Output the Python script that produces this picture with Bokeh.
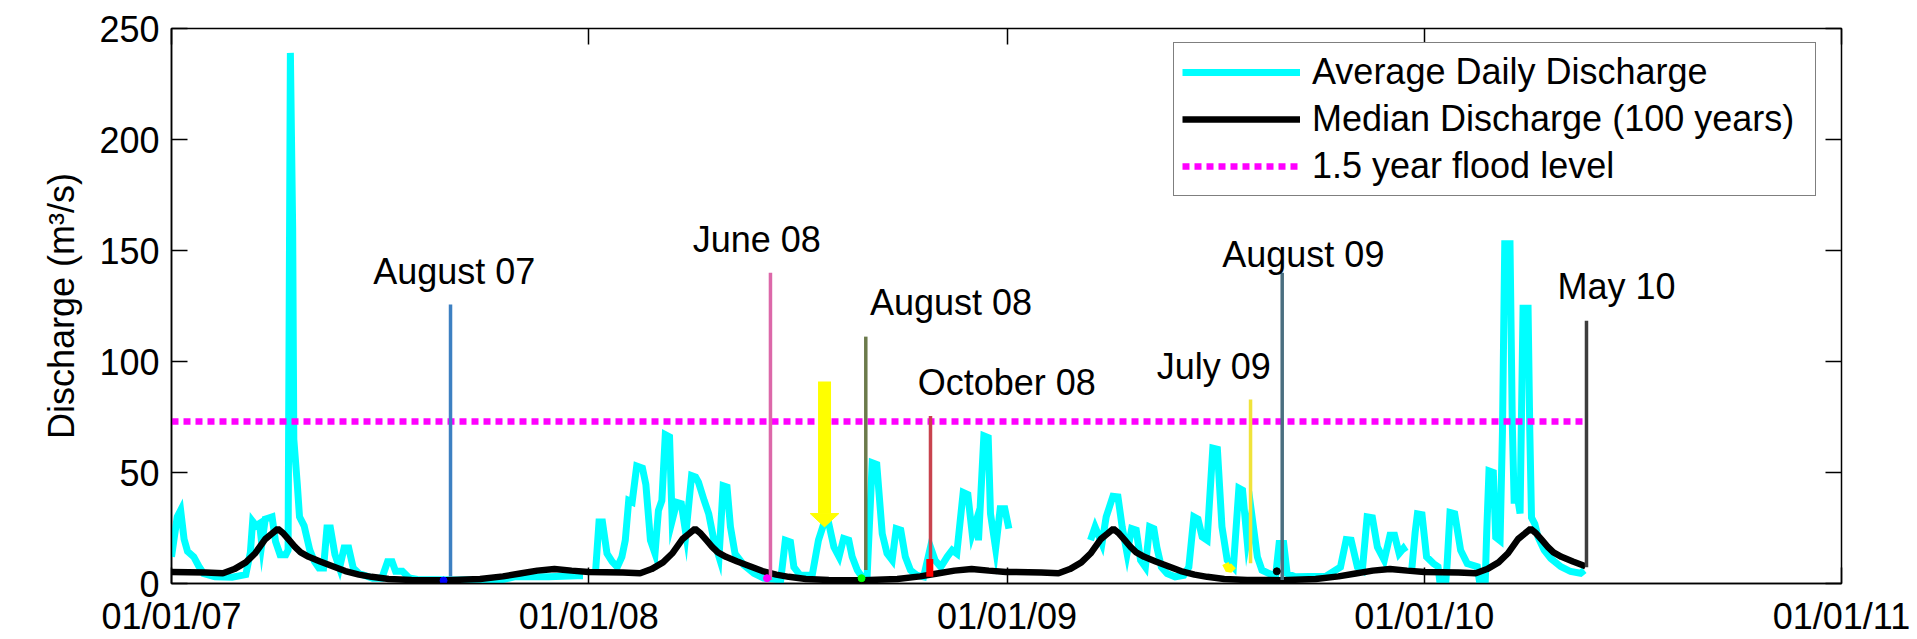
import numpy as np
import pandas as pd
from bokeh.plotting import figure
from bokeh.models import (Range1d, FixedTicker, DatetimeTickFormatter, DatetimeAxis, LinearAxis,
                          Legend, LegendItem, CustomJSTickFormatter)
from bokeh.core.properties import value
from bokeh.embed import file_html
from bokeh.resources import INLINE

FONT = "Liberation Sans"
START = pd.Timestamp("2007-01-01")

# ---------------- data ----------------
# Average daily discharge: days since 01/01/07, value (m3/s); NaN = data gap
cyan_day = [0, 5, 8, 11, 14, 19.5, 24, 28, 38, 53, 65, 69, 71, 74, 77, 79, 82, 85, 88, 91, 95, 100,
            102, 104, 106, 107, 110, 112, 116, 121, 125, 129, 133, 136, 139, 143, 147, 151, 155, 159,
            164, 176, 184, 189, 193, 196, 202, 208, 215, 250, 290, 300, 330, 355, 360, 365,
            371, 374, 377, 381, 385.5, 390, 394, 397, 400, 403, 407, 412, 415, 419, 423, 426, 429,
            432, 435.7, 438, 442, 446, 450, 455, 458.5, 461, 466, 470, 474.5, 479, 482.6, 486, 489,
            493, 500.7, 509.5, 518, 533, 537, 541.5, 544.5, 550, 560.5, 566, 570.7, 575, 579.5, 584,
            588, 592.5, 595.5, 600, 604, 608.6, 613, 617, 621.8, 626, 630.5, 634, 638, 642, 646.5,
            652, 658, 664, 668, 673, 678.6, 683, 687, 692.6, 696.7, 700.5, 705, 706, 710.7, 714.5,
            716.5, 721, 725, 729, 732.6, 733.5,
            804, 808, 814, 817.7, 823.6, 828, 831.7, 836, 840, 844, 847.8, 852, 855.7, 859.4, 862,
            866, 871, 878, 885.6, 890, 894.4, 898, 901.7, 906, 911, 915, 919, 923.6, 929, 933.8, 937,
            941, 945, 950, 954, 960, 966, 969, 973, 976, 983, 995, 1009.6, 1022.7, 1027.7, 1032,
            1037.5, 1041.8, 1046, 1050.6, 1055, 1061, 1066, 1070, 1074, 1077.7, 1079.6, 1082,
            1085, 1088, 1090, 1094, 1098, 1104, 1108, 1111, 1114, 1116, 1118.5, 1122.6, 1127.8,
            1133.6, 1142.4, 1146, 1149, 1150.6, 1152.6, 1156.4, 1158.5, 1162.3, 1164.4, 1166.4,
            1171, 1173, 1174.6, 1178, 1179.8, 1182.4, 1186.8, 1188.3, 1189.8, 1192.7, 1195.6,
            1200.9, 1206.7, 1215.4, 1224, 1232.7, 1236]
cyan_q = [12, 30, 33, 20, 14.5, 12, 7.7, 4.5, 3, 2.8, 4, 14, 28, 26, 27, 17.7, 29, 29.5, 30, 19, 13, 13,
          15, 239, 160, 65, 45, 30, 26, 15, 10, 7, 7, 25, 25, 13, 7, 16, 16, 7,
          4.5, 2.4, 2.4, 9.8, 9.8, 5.5, 5.5, 2.5, 1.8, 1.6, 1.8, 3, 3, 3.5, 3.5, np.nan,
          5.4, 27.7, 27.7, 13.5, 9.9, 7.4, 12, 19.5, 37.4, 36.7, 52.9, 52, 44.6, 19.5, 13.5, 32.9, 37.4,
          67, 66, 28.3, 36.5, 35.9, 22.4, 48.6, 47.9, 45.6, 37.4, 31.4, 19.5, 12, 44, 43.4, 25.5,
          13.5, 8.3, 4.6, 2.4, 1.6, 19.5, 18.7, 7.4, 3.7, 3.7, 19.5, 27, 27, 16.4, 12,
          20.3, 19.5, 12, 6, 3, 3.7, 54.4, 53.6, 22.4, 13.5, 10.5, 24.7, 24, 12, 6,
          3.7, 3, 16.4, 10.5, 7.4, 12, 15, 13.5, 41, 40, 22.4, 29.9, 19.5, 66.5, 65.7,
          31.4, 15.8, 33.7, 33.7, 24.7, np.nan,
          19.5, 25.5, 18, 30, 39.3, 39, 25.5, 13.5, 24.7, 24, 10.5, 7.4, 25.5, 24.7, 16.4,
          7.4, 4.5, 3, 3.7, 7.4, 30, 29, 21, 19.5, 61, 60.5, 25.5, 10.5, 7.4, 42.9, 42,
          19.5, 31.4, 12, 6, 4.5, 3.7, 18, 18, 4.5, 3, 3.2, 3.2, 7.4, 19.8, 19.5,
          7.4, 6, 30, 29.6, 16.4, 10.5, 21.7, 21.7, 13.5, 15.8, 14.3, np.nan,
          6, 23, 31.4, 31, 12, 9, 7.6, -5, -5, 9, 32, 31.4, 15,
          9, 7.6, -5, -5, 23, 50.7, 50, 20.8, 19.3, 68.7, 153,
          153, 71.8, 37.5, 37.5, 31.6, 124, 124, 68.7, 29.7, 26.8, 20.8,
          15, 11.3, 7.6, 5.4, 4.6, 6]

# Median discharge (100 years), by day of year
median_doy = [0, 30, 45, 55, 65, 73, 82, 88, 93, 98, 103, 108, 113, 120, 130, 141, 152, 164, 175,
              190, 210, 240, 270, 290, 305, 320, 335, 350, 365]
median_q = [5.2, 5.0, 4.6, 6.5, 9.5, 13.5, 20, 22.5, 24.7, 22.5, 19.5, 16.5, 14, 12, 9.9, 7.8, 5.6,
            4.0, 3.0, 2.0, 1.6, 1.5, 2.0, 3.2, 4.5, 5.8, 6.5, 5.8, 5.2]
median_years = [2007, 2008, 2009, 2010]

flood_level = 73  # 1.5 year flood level (m3/s)

# Event markers
event_labels = ["August 07", "June 08", "August 08", "October 08", "July 09", "August 09", "May 10"]
event_day = [244.1, 524.0, 607.4, 664.0, 944.0, 971.7, 1237.9]
event_bottom = [3.1, 1.6, 6.1, 10.6, 9.1, 1.6, 7.3]
event_top = [125.7, 140, 111.2, 75.4, 82.9, 140, 118.4]
event_colors = ["#3d80c2", "#dc68a9", "#6b7a4b", "#c8434e", "#f0e33a", "#4a6f80", "#3d3d3d"]
label_day = [247.4, 512.0, 681.9, 730.7, 911.9, 990.2, 1264.2]
label_q = [140.5, 155.0, 126.8, 90.5, 97.8, 148.1, 133.8]

# Yellow arrow
arrow_day = [571.3]
arrow_top = [91]
arrow_tip = [25.5]

# small coloured marks at the foot of the event lines
mark_day = [238, 521, 603.7, 967]
mark_q = [1.3, 2.4, 2.4, 5.5]
mark_colors = ["#0000ff", "#ff00ff", "#00ff00", "#000000"]
red_mark_day = [663.4]
red_mark_lo = [3]
red_mark_hi = [11]
yellow_blob_day = [922, 925, 929]
yellow_blob_q = [9, 6, 8]

x_tick_dates = ["2007-01-01", "2008-01-01", "2009-01-01", "2010-01-01", "2011-01-01"]
y_ticks = [0, 50, 100, 150, 200, 250]


def to_date(days):
    return list(START + pd.to_timedelta(np.asarray(days, dtype=float), unit="D"))


# ---------------- figure ----------------
p = figure(width=1917, height=639, x_axis_type="datetime",
           x_range=Range1d(pd.Timestamp(x_tick_dates[0]), pd.Timestamp(x_tick_dates[-1])),
           y_range=Range1d(0, 250), output_backend="svg", toolbar_location=None,
           min_border_left=171, min_border_right=76, min_border_top=28, min_border_bottom=52)
p.background_fill_color = "white"
p.border_fill_color = "white"
p.grid.visible = False
p.outline_line_color = "black"
p.outline_line_width = 1.5

tick_ms = [pd.Timestamp(d).value // 10**6 for d in x_tick_dates]
fmt = "%m/%d/%y"

xa = p.xaxis[0]
xa.ticker = FixedTicker(ticks=tick_ms)
xa.formatter = DatetimeTickFormatter(days=fmt, months=fmt, years=fmt, hours=fmt, hourmin=fmt)
ya = p.yaxis[0]
ya.ticker = FixedTicker(ticks=y_ticks)
ya.axis_label = "Discharge (m³/s)"
for ax in (xa, ya):
    ax.major_label_text_font = FONT
    ax.major_label_text_font_size = "36px"
    ax.major_label_text_color = "black"
    ax.major_tick_in = 16
    ax.major_tick_out = 0
    ax.minor_tick_in = 0
    ax.minor_tick_out = 0
    ax.major_tick_line_width = 1.5
    ax.major_tick_line_color = "black"
    ax.axis_line_width = 1.5
    ax.axis_line_color = "black"
    ax.major_label_standoff = 12
ya.axis_label_text_font = FONT
ya.axis_label_text_font_size = "36px"
ya.axis_label_text_font_style = "normal"
ya.axis_label_text_color = "black"
ya.axis_label_standoff = 14

blank = CustomJSTickFormatter(code="return ''")
top_ax = DatetimeAxis(ticker=FixedTicker(ticks=tick_ms), formatter=blank)
right_ax = LinearAxis(ticker=FixedTicker(ticks=y_ticks), formatter=blank)
for ax in (top_ax, right_ax):
    ax.major_tick_in = 16
    ax.major_tick_out = 0
    ax.minor_tick_in = 0
    ax.minor_tick_out = 0
    ax.major_tick_line_width = 1.5
    ax.major_tick_line_color = "black"
    ax.axis_line_color = None
    ax.major_label_text_font_size = "0px"
    ax.major_label_standoff = 0
p.add_layout(top_ax, "above")
p.add_layout(right_ax, "right")

# daily discharge
r_cyan = p.line(to_date(cyan_day), cyan_q, line_color="#00ffff", line_width=7, line_join="miter")

# median: repeat the day-of-year climatology for each year, up to the last event
med_x, med_y = [], []
end_date = to_date([event_day[-1]])[0]
for yr in median_years:
    ys = pd.Timestamp(f"{yr}-01-01")
    for d, q in zip(median_doy, median_q):
        t = ys + pd.Timedelta(days=d)
        if t <= end_date and (not med_x or t > med_x[-1]):
            med_x.append(t)
            med_y.append(q)
r_med = p.line(med_x, med_y, line_color="black", line_width=6.5)

# flood level
r_flood = p.line([START, end_date], [flood_level, flood_level], line_color="#ff00ff",
                 line_width=6.5, line_dash="7 5")

# event lines
p.segment(x0=to_date(event_day), y0=event_bottom, x1=to_date(event_day), y1=event_top,
          line_color=event_colors, line_width=3.5)

# yellow arrow
HEAD_HALF_DAYS = 12.5
HEAD_LEN = 6.0
for d, top, tip in zip(arrow_day, arrow_top, arrow_tip):
    base = tip + HEAD_LEN
    p.segment(x0=to_date([d]), y0=[top], x1=to_date([d]), y1=[base], line_color="#ffff00",
              line_width=13)
    p.patch(to_date([d - HEAD_HALF_DAYS, d + HEAD_HALF_DAYS, d]), [base, base, tip],
            fill_color="#ffff00", line_color="#ffff00", line_width=1)

# small marks
p.scatter(to_date(mark_day), mark_q, marker="circle", size=7, fill_color=mark_colors,
          line_color=mark_colors)
p.segment(x0=to_date(red_mark_day), y0=red_mark_lo, x1=to_date(red_mark_day), y1=red_mark_hi,
          line_color="#ff0000", line_width=7)
p.line(to_date(yellow_blob_day), yellow_blob_q, line_color="#ffff00", line_width=7)

# event labels
p.text(to_date(label_day), label_q, text=event_labels, text_font=value(FONT),
       text_font_size="36px", text_align="center", text_baseline="alphabetic", text_color="black")

legend = Legend(items=[LegendItem(label="Average Daily Discharge", renderers=[r_cyan]),
                       LegendItem(label="Median Discharge (100 years)", renderers=[r_med]),
                       LegendItem(label="1.5 year flood level", renderers=[r_flood])],
                location=(1002, 387), orientation="vertical", padding=8, spacing=5,
                glyph_width=118, glyph_height=40, label_height=40, label_width=495,
                label_standoff=12, label_text_font=FONT, label_text_font_size="36px",
                label_text_color="black", border_line_color="black", border_line_width=1.5,
                background_fill_color="white", background_fill_alpha=1.0, margin=0)
p.add_layout(legend, "center")

open("out.html", "w").write(file_html(p, INLINE))
